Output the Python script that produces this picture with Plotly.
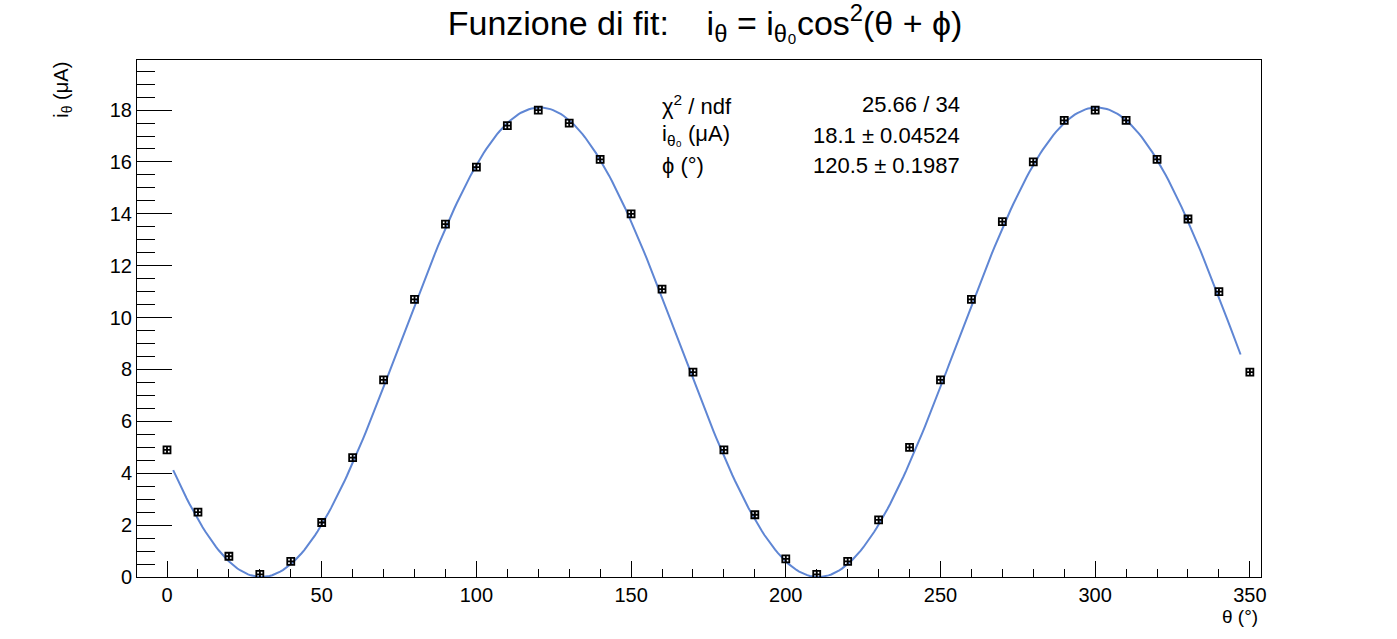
import numpy as np
import plotly.graph_objects as go

# measured points
theta = [0, 10, 20, 30, 40, 50, 60, 70, 80, 90, 100, 110, 120, 130, 140, 150, 160, 170,
         180, 190, 200, 210, 220, 230, 240, 250, 260, 270, 280, 290, 300, 310, 320, 330, 340, 350]
current = [4.9, 2.5, 0.8, 0.1, 0.6, 2.1, 4.6, 7.6, 10.7, 13.6, 15.8, 17.4, 18.0, 17.5, 16.1, 14.0, 11.1, 7.9,
           4.9, 2.4, 0.7, 0.1, 0.6, 2.2, 5.0, 7.6, 10.7, 13.7, 16.0, 17.6, 18.0, 17.6, 16.1, 13.8, 11.0, 7.9]
current_err = [0.1] * len(theta)

# fit result (from the stats box)
i0_fit = 18.1
phi_fit = 120.5
fit_range = [2, 347]

stat_labels = ["χ<sup>2</sup> / ndf", "i<sub>θ₀</sub> (μA)", "ϕ (°)"]
stat_values = ["25.66 / 34", "18.1 ± 0.04524", "120.5 ± 0.1987"]

xfit = np.linspace(fit_range[0], fit_range[1], 400)
yfit = i0_fit * np.cos(np.radians(xfit - phi_fit)) ** 2

FONT = "Liberation Sans, Arial, sans-serif"

ML, MR, MT, MB = 137, 136, 60, 62
PW = 1397 - ML - MR

fig = go.Figure()
fig.add_trace(go.Scatter(x=xfit, y=yfit, mode="lines",
                         line=dict(color="#5f86d4", width=2), hoverinfo="skip"))
fig.add_trace(go.Scatter(x=theta, y=current, mode="markers",
                         error_y=dict(type="data", array=current_err, color="black", thickness=1, width=0),
                         marker=dict(symbol="square-cross-open", size=7, color="black",
                                     line=dict(color="black", width=1.8))))

fig.update_layout(
    width=1397, height=639,
    margin=dict(l=ML, r=MR, t=MT, b=MB),
    plot_bgcolor="white", paper_bgcolor="white",
    showlegend=False,
    font=dict(family=FONT, color="black", size=20),
    title=dict(text="Funzione di fit:    i<sub>θ</sub> = i<sub>θ₀</sub>cos<sup>2</sup>(θ + ϕ)",
               x=0.5047, xanchor="center", y=0.964, yanchor="middle",
               font=dict(size=34, family=FONT)),
)

fig.update_xaxes(range=[-9.7, 353.6], showgrid=False, zeroline=False,
                 showline=True, mirror=True, linecolor="black", linewidth=1,
                 ticks="inside", ticklen=16, tickcolor="black", dtick=50, tick0=0,
                 tickfont=dict(size=20),
                 minor=dict(dtick=10, ticks="inside", ticklen=8, tickcolor="black", showgrid=False))
fig.update_yaxes(range=[0, 19.93], showgrid=False, zeroline=False,
                 showline=True, mirror=True, linecolor="black", linewidth=1,
                 ticks="inside", ticklen=35, tickcolor="black", dtick=2, tick0=0,
                 tickfont=dict(size=20),
                 minor=dict(dtick=0.5, ticks="inside", ticklen=18, tickcolor="black", showgrid=False))

# axis titles, ROOT style (at the ends of the axes)
fig.add_annotation(text="θ (°)", xref="paper", yref="paper", x=1.0 - 1 / PW, y=-0.052,
                   xanchor="right", yanchor="top", showarrow=False, font=dict(size=19))
fig.add_annotation(text="i<sub>θ</sub> (μA)", xref="paper", yref="paper", x=-0.067, y=1.0,
                   xanchor="center", yanchor="top", textangle=-90, showarrow=False,
                   font=dict(size=20))

# stats box text
for k, (lab, val) in enumerate(zip(stat_labels, stat_values)):
    yy = 0.913 - k * 0.059
    fig.add_annotation(text=lab, xref="paper", yref="paper", x=(660 - 137) / PW, y=yy,
                       xanchor="left", yanchor="middle", showarrow=False, font=dict(size=22))
    fig.add_annotation(text=val, xref="paper", yref="paper", x=(962 - 137) / PW, y=yy,
                       xanchor="right", yanchor="middle", showarrow=False, font=dict(size=22))

# drop the default page margin so the figure sits at the window's corner
fig.write_html("out.html", config={"displayModeBar": False},
               post_script="document.body.style.margin='0px';")
